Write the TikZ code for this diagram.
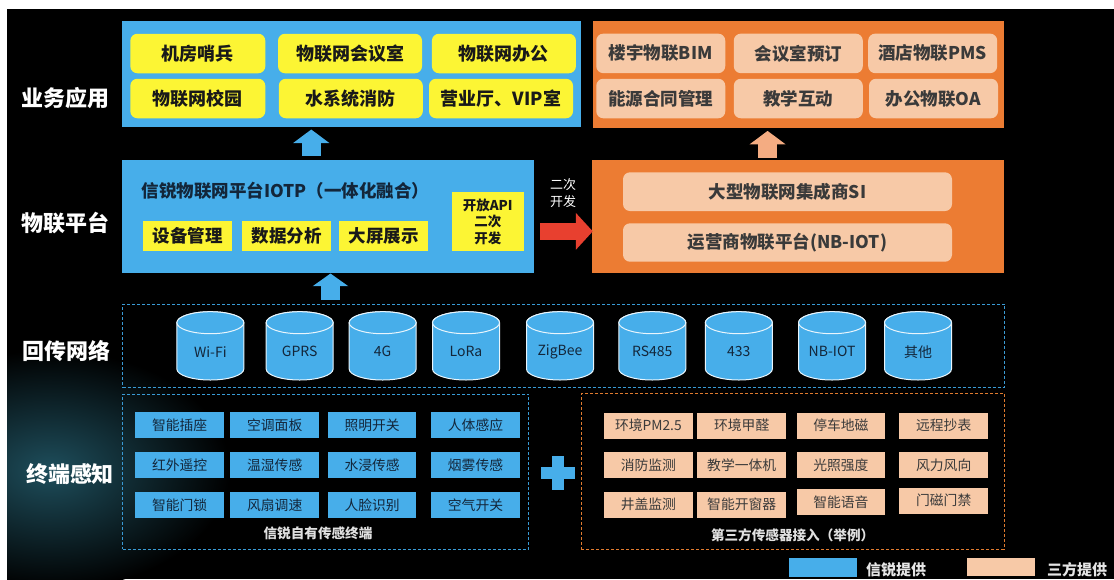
\documentclass[tikz,border=0pt]{standalone}
\usepackage{fontspec}
\setmainfont{Noto Sans CJK SC}
\usepackage{xcolor}
\usetikzlibrary{arrows.meta}

\definecolor{xrblue}{HTML}{47AEEA}
\definecolor{xryellow}{HTML}{FCF534}
\definecolor{xrorange}{HTML}{EC7C33}
\definecolor{xrpeach}{HTML}{F7C9A7}
\definecolor{xrred}{HTML}{E8402F}
\definecolor{xrnavy}{HTML}{13263A}
\definecolor{xrgray}{HTML}{3A3A3A}
\definecolor{xrarrow}{HTML}{F4AC82}
\definecolor{xrdash}{HTML}{3A9BD5}
\definecolor{xrodash}{HTML}{E07A2E}
\definecolor{xrteal}{HTML}{1E4E5C}

\begin{document}
\begin{tikzpicture}[x=1pt,y=-1pt,
panel/.style={rectangle,inner sep=0pt},
layerlabel/.style={text=white,font=\bfseries\fontsize{22}{24}\selectfont},
appitem/.style={rectangle,rounded corners=7pt,fill=xryellow,minimum height=39.5,
  text=black!90,font=\bfseries\fontsize{18}{20}\selectfont,inner sep=0pt},
partneritem/.style={rectangle,rounded corners=7pt,fill=xrpeach,minimum width=129,minimum height=39.5,
  text=xrgray,font=\bfseries\fontsize{17.5}{20}\selectfont,inner sep=0pt},
module/.style={rectangle,fill=xryellow,minimum width=89,minimum height=30.5,
  text=black!90,font=\bfseries\fontsize{17.5}{20}\selectfont,inner sep=0pt},
blockarrow/.style={line width=18.5pt,-{Triangle[length=13.5pt,width=35.5pt]}},
frame/.style={rectangle,dashed,dash pattern=on 3pt off 2pt,line width=0.8pt,inner sep=0pt},
channelbody/.style={fill=xrblue,draw=white!88!xrblue,line width=1pt},
channel/.style={text=xrnavy,font=\fontsize{14}{16}\selectfont,inner sep=0pt},
ownsensor/.style={rectangle,fill=xrblue,minimum width=88.5,minimum height=26,
  text=xrnavy,font=\fontsize{13.8}{16}\selectfont,inner sep=0pt},
thirdsensor/.style={rectangle,fill=xrpeach,minimum width=88.5,minimum height=26,
  text=xrgray,font=\fontsize{13.8}{16}\selectfont,inner sep=0pt},
caption/.style={text=black!12,font=\bfseries\fontsize{13.6}{16}\selectfont},
legendtext/.style={text=black!10,font=\bfseries\fontsize{15}{17}\selectfont,inner sep=0pt}]
\useasboundingbox (0,0) rectangle (1114,579);
% background
\fill[white] (0,0) rectangle (1114,579);
\fill[black] (7,9) rectangle (1114,579);
\begin{scope}
\clip (7,9) rectangle (1114,579);
\shade[inner color=xrteal,outer color=black] (50,470) ellipse [x radius=180,y radius=120];
\end{scope}

% layer labels
\node[layerlabel] (lapp) at (65.5,98) {业务应用};
\node[layerlabel] (lplat) at (65.5,223) {物联平台};
\node[layerlabel] (lnet) at (66,351) {回传网络};
\node[layerlabel] (lterm) at (70,474) {终端感知};

% applications
\node[panel,fill=xrblue,minimum width=458.5,minimum height=106.3] (appbox) at (351.25,73.85) {};
\node[panel,fill=xrorange,minimum width=411.1,minimum height=107] (sibox) at (798.15,74.2) {};
\foreach \x/\y/\w/\txt [count=\i] in {197.8/53.5/135/机房哨兵,350/53.5/144/物联网会议室,503.9/53.5/144/物联网办公,
  197.8/98.5/135/物联网校园,350.8/98.5/144/水系统消防,501/98.5/144/营业厅、VIP室}
  \node[appitem,minimum width=\w] (app\i) at (\x,\y) {\txt};
\foreach \x/\y/\txt [count=\i] in {660.75/53.4/楼宇物联BIM,798.3/53.4/会议室预订,932.7/53.4/酒店物联PMS,
  660.75/98.5/能源合同管理,798.3/98.5/教学互动,933.5/98.5/办公物联OA}
  \node[partneritem] (sapp\i) at (\x,\y) {\txt};

% platforms
\node[panel,fill=xrblue,minimum width=412,minimum height=112.4] (platform) at (328,216.5) {};
\node[anchor=west,inner sep=0pt,text=xrnavy,font=\bfseries\fontsize{17.5}{20}\selectfont] (ptitle)
  at (141.6,190.7) {信锐物联网平台IOTP（一体化融合）};
\foreach \x/\txt [count=\i] in {187.75/设备管理,286.7/数据分析,383.5/大屏展示}
  \node[module] (mod\i) at (\x,235.75) {\txt};
\node[module,minimum width=71.5,minimum height=59,align=center,
  font=\bfseries\fontsize{13.5}{16.5}\selectfont] (api) at (487.75,221.8) {开放API\\二次\\开发};

\node[panel,fill=xrorange,minimum width=411.9,minimum height=113] (partner) at (797.75,216.8) {};
\node[partneritem,minimum width=329,minimum height=38.7] (si) at (787.5,191.65) {大型物联网集成商SI};
\node[partneritem,minimum width=329,minimum height=38.4] (nbiot) at (787.5,242.5) {运营商物联平台(NB-IOT)};
\node[text=white,align=center,font=\fontsize{13}{16.7}\selectfont] (devlabel) at (563,193.3) {二次\\开发};

% arrows
\draw[blockarrow,xrblue,shorten <=4.3pt,shorten >=2.3pt]
  ([xshift=-16.75pt]platform.north) -- ([xshift=-16.75pt]platform.north |- appbox.south);
\draw[blockarrow,xrarrow,shorten <=2.3pt,shorten >=3pt]
  ([xshift=-30.15pt]partner.north) -- ([xshift=-30.15pt]partner.north |- sibox.south);
\draw[line width=17.3pt,xrred,-{Triangle[length=17pt,width=36pt]},shorten <=5.6pt,shorten >=-1.2pt]
  ([yshift=-14.85pt]platform.east) -- ([yshift=-14.85pt]platform.east -| partner.west);

% network
\node[frame,draw=xrdash,minimum width=881.7,minimum height=83.5] (netbox) at (563.55,345.75) {};
\draw[blockarrow,xrblue,-{Triangle[length=12.7pt,width=35pt]},shorten <=4pt,shorten >=0.6pt]
  ([xshift=2.5pt]platform.south |- netbox.north) -- ([xshift=2.5pt]platform.south);
\foreach \x/\txt [count=\i] in {210.35/Wi-Fi,299.65/GPRS,382.65/4G,466/LoRa,560/ZigBee,
  652.3/RS485,738.85/433,832.05/NB-IOT,918/其他}{
  \filldraw[channelbody] (\x-33.5,322.7) -- (\x-33.5,369)
    arc[start angle=180,end angle=0,x radius=33.5,y radius=11] -- (\x+33.5,322.7)
    arc[start angle=0,end angle=-180,x radius=33.5,y radius=11] -- cycle;
  \draw[channelbody] (\x,322.7) ellipse [x radius=33.5,y radius=11];
  \node[channel] (ch\i) at (\x,351.7) {\txt};
}

% terminals
\node[frame,draw=xrdash,minimum width=406.1,minimum height=155.3] (ownbox) at (325.55,471.65) {};
\foreach \x/\y/\txt [count=\i] in {179.65/425/智能插座,274.7/425/空调面板,372.15/425/照明开关,475.5/425/人体感应,
  179.65/465.3/红外遥控,274.7/465.3/温湿传感,372.15/465.3/水浸传感,475.5/465.3/烟雾传感,
  179.65/505.3/智能门锁,274.7/505.3/风扇调速,372.15/505.3/人脸识别,475.5/505.3/空气开关}
  \node[ownsensor] (own\i) at (\x,\y) {\txt};
\node[caption] (owncap) at (318,533.3) {信锐自有传感终端};

\node[frame,draw=xrodash,minimum width=422.6,minimum height=156] (thirdbox) at (792.7,471.3) {};
\foreach \x/\y/\txt [count=\i] in {648.35/425.5/环境PM2.5,741.7/425.5/环境甲醛,840.85/425.5/停车地磁,943.7/425.5/远程抄表,
  648.35/465.3/消防监测,741.7/465.3/教学一体机,840.85/465.3/光照强度,943.7/465.3/风力风向,
  648.35/504.5/井盖监测,741.7/504.5/智能开窗器,840.85/502/智能语音,943.7/500.7/门磁门禁}
  \node[thirdsensor] (third\i) at (\x,\y) {\txt};
\node[caption] (thirdcap) at (792.6,535) {第三方传感器接入（举例）};

% plus sign
\fill[xrblue] (551.5,456) rectangle (563.5,490);
\fill[xrblue] (540.5,467) rectangle (574.5,479);

% legend
\node[panel,fill=xrblue,minimum width=67.7,minimum height=19] (legown) at (822.85,567.2) {};
\node[legendtext,anchor=west] (legowntxt) at (866,570) {信锐提供};
\node[panel,fill=xrpeach,minimum width=68,minimum height=17.5] (legthird) at (1001,566.75) {};
\node[legendtext,anchor=west] (legthirdtxt) at (1047,570) {三方提供};
\end{tikzpicture}
\end{document}
